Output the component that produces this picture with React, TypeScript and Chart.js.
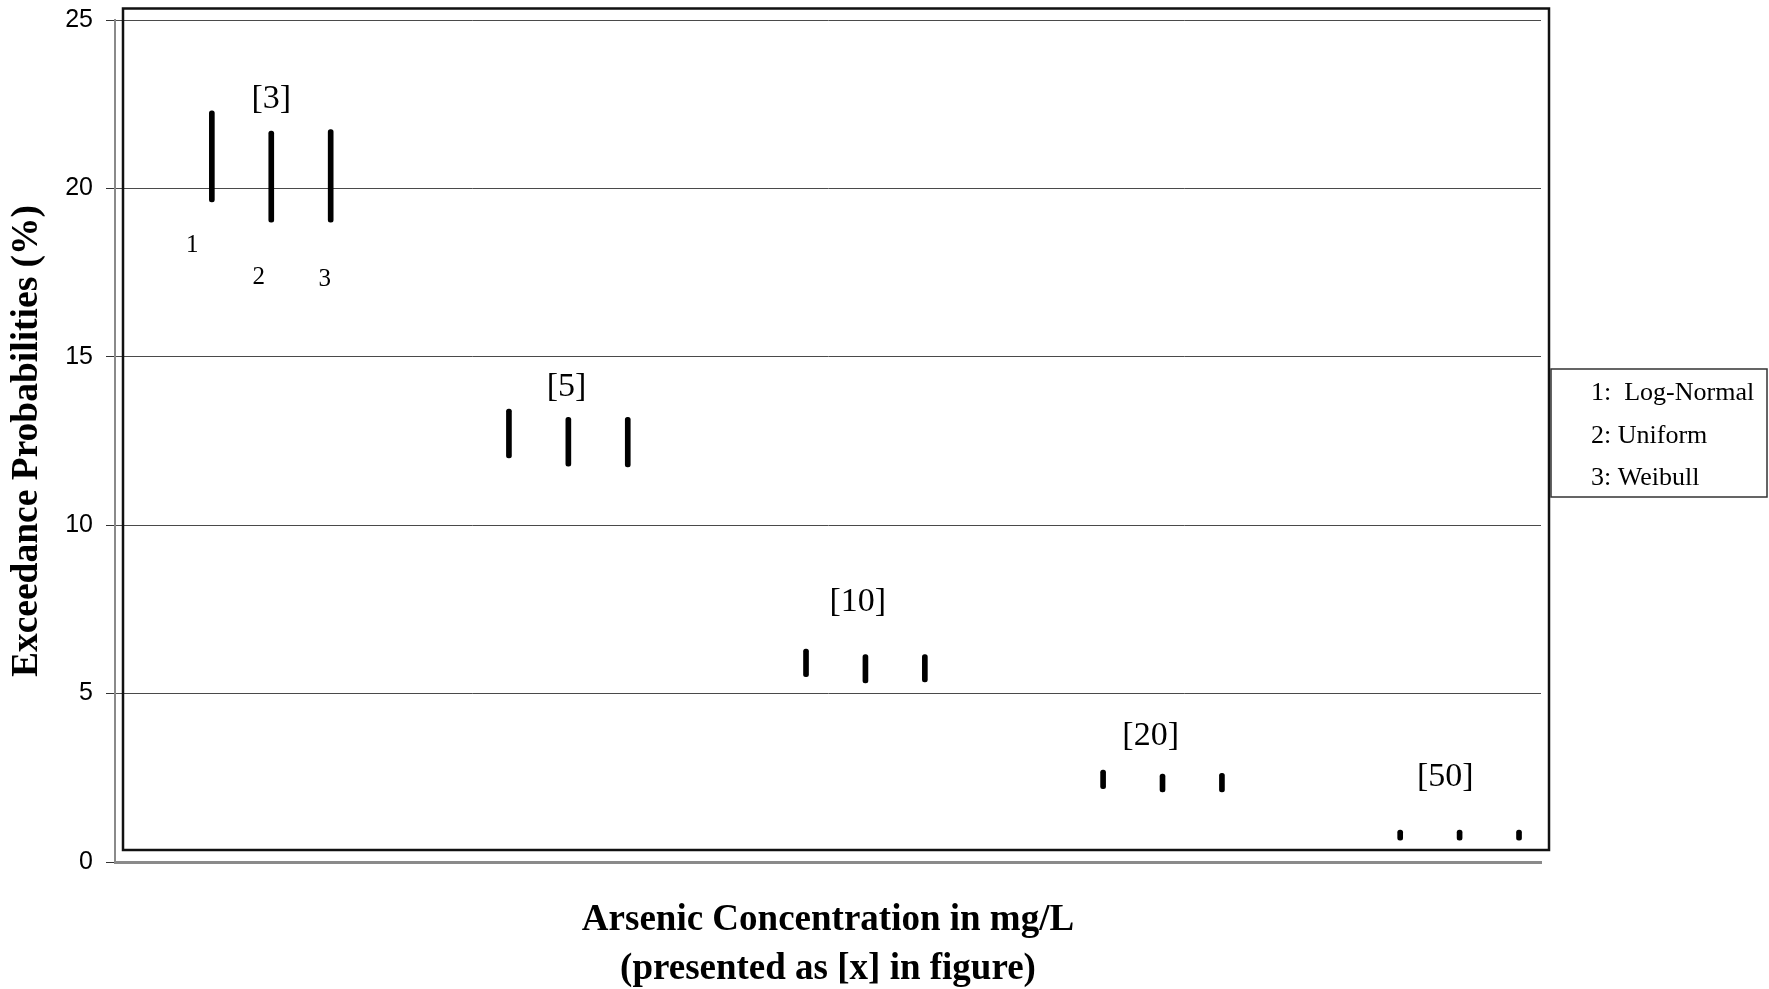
import React, { useEffect, useRef } from "react";
import { Chart, registerables } from "chart.js";

Chart.register(...registerables);

// ---- data ----
const concentrations = ["[3]", "[5]", "[10]", "[20]", "[50]"];
const distributions = ["Log-Normal", "Uniform", "Weibull"];
const legendLabels = ["1:  Log-Normal", "2: Uniform", "3: Weibull"];
const seriesNumbers = ["1", "2", "3"];

// slot positions of each concentration group on the (hidden) x axis
const groupCenters = [2.63, 7.63, 12.63, 17.63, 22.63];
const seriesOffsets = [-1, 0, 1];

// exceedance probability ranges (%) : low / high ends of each bar
const logNormalLow = [19.6, 12.0, 5.5, 2.18, 0.65];
const logNormalHigh = [22.3, 13.45, 6.32, 2.73, 0.95];
const uniformLow = [19.0, 11.75, 5.32, 2.08, 0.65];
const uniformHigh = [21.7, 13.2, 6.16, 2.61, 0.95];
const weibullLow = [19.0, 11.73, 5.35, 2.08, 0.65];
const weibullHigh = [21.75, 13.2, 6.16, 2.63, 0.95];

// label positions (data space)
const labelX = [2.63, 7.6, 12.5, 17.43, 22.39];
const labelY = [22.65, 14.1, 7.73, 3.74, 2.52];
const numberX = [1.3, 2.42, 3.53];
const numberY = [18.32, 17.37, 17.3];

const yTicks = [0, 5, 10, 15, 20, 25];

const lows = [logNormalLow, uniformLow, weibullLow];
const highs = [logNormalHigh, uniformHigh, weibullHigh];

const SERIF = "'Liberation Serif', 'Times New Roman', serif";
const SANS = "'Liberation Sans', Arial, sans-serif";

const decorPlugin = {
  id: "decor",
  afterDraw(chart: any) {
    const { ctx, chartArea: ca, scales } = chart;
    const xs = scales.x;
    const ys = scales.y;
    ctx.save();

    // outer black frame around plot
    ctx.strokeStyle = "#111";
    ctx.lineWidth = 2.5;
    ctx.strokeRect(ca.left + 8, ca.top - 11.5, ca.right + 8 - (ca.left + 8), ca.bottom - 12 - (ca.top - 11.5));

    // concentration labels
    ctx.fillStyle = "#000";
    ctx.font = `34px ${SERIF}`;
    ctx.textAlign = "center";
    ctx.textBaseline = "middle";
    concentrations.forEach((c, g) => {
      ctx.fillText(c, xs.getPixelForValue(labelX[g]), ys.getPixelForValue(labelY[g]));
    });

    // series numbers under first group
    ctx.font = `25px ${SERIF}`;
    seriesNumbers.forEach((n, i) => {
      ctx.fillText(n, xs.getPixelForValue(numberX[i]), ys.getPixelForValue(numberY[i]));
    });

    // legend box
    const lx = ca.right + 10;
    const ly = 369;
    const lw = 216;
    const lh = 128;
    ctx.strokeStyle = "#333";
    ctx.lineWidth = 1.5;
    ctx.strokeRect(lx, ly, lw, lh);
    ctx.font = `26px ${SERIF}`;
    ctx.textAlign = "left";
    ctx.textBaseline = "alphabetic";
    legendLabels.forEach((t, i) => {
      ctx.fillText(t, lx + 40, ly + 31 + i * 42.5);
    });

    ctx.restore();
  },
};

export default function App() {
  const ref = useRef<HTMLCanvasElement | null>(null);

  useEffect(() => {
    if (!ref.current) return;
    const chart = new Chart(ref.current, {
      type: "bar",
      data: {
        datasets: distributions.map((name, i) => ({
          label: name,
          data: concentrations.map((_, g) => ({
            x: groupCenters[g] + seriesOffsets[i],
            y: [lows[i][g], highs[i][g]],
          })),
          backgroundColor: "#000",
          borderWidth: 0,
          barThickness: 5,
          borderRadius: 2.5,
          borderSkipped: false,
          grouped: false,
        })) as any,
      },
      options: {
        responsive: false,
        animation: false,
        devicePixelRatio: 1,
        layout: { padding: { left: 0, top: 20, right: 228, bottom: 0 } },
        plugins: {
          legend: { display: false },
          tooltip: { enabled: false },
        },
        scales: {
          x: {
            type: "linear",
            offset: false,
            min: 0,
            max: 24,
            ticks: { display: false },
            grid: { drawOnChartArea: false, drawTicks: false, offset: false },
            border: { display: true, color: "#8a8a8a", width: 3 },
            title: {
              display: true,
              text: ["Arsenic Concentration in mg/L", "(presented as [x] in figure)"],
              font: { family: SERIF, size: 37, weight: "bold", lineHeight: 1.32 },
              color: "#000",
              padding: { top: 0, bottom: -5 },
            },
            afterFit: (s: any) => {
              s.height = 127;
              s.paddingLeft = 0;
              s.paddingRight = 0;
            },
          },
          y: {
            min: 0,
            max: 25,
            afterBuildTicks: (s: any) => {
              s.ticks = yTicks.map((v) => ({ value: v }));
            },
            ticks: {
              font: { family: SANS, size: 25 },
              color: "#000",
              padding: 13,
            },
            grid: { color: "#4a4a4a", lineWidth: 1, tickLength: 9, tickColor: "#333" },
            border: { color: "#8a8a8a", width: 2 },
            title: {
              display: true,
              text: "Exceedance Probabilities (%)",
              font: { family: SERIF, size: 37.5, weight: "bold", lineHeight: 1.2 },
              color: "#000",
              padding: { top: 5, bottom: 0 },
            },
            afterFit: (s: any) => {
              s.width = 115;
              s.paddingTop = 0;
              s.paddingBottom = 0;
            },
          },
        },
      } as any,
      plugins: [decorPlugin],
    });
    return () => chart.destroy();
  }, []);

  return (
    <div style={{ position: "fixed", left: 0, top: 0, width: 1769, height: 989, background: "#fff" }}>
      <canvas ref={ref} width={1769} height={989} style={{ width: 1769, height: 989, display: "block" }} />
    </div>
  );
}
